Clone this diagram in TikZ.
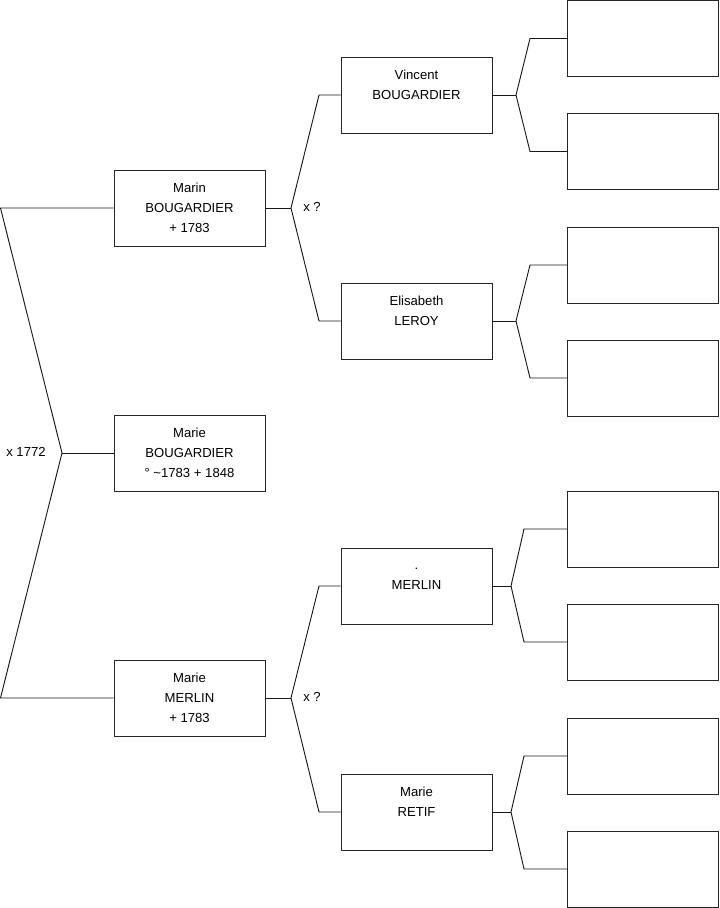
\documentclass[tikz,border=0pt]{standalone}
\usepackage{fontspec}
\setmainfont{Liberation Sans}
\begin{document}
\begin{tikzpicture}[
  x=0.03cm, y=-0.03cm,
  person/.style={draw=black!85, line width=0.8pt, minimum width=4.53cm,
                 minimum height=2.28cm, align=center, inner sep=0pt,
                 font=\fontsize{11.2}{17}\selectfont},
  link/.style={black!90, line width=0.8pt},
  union/.style={font=\fontsize{11.2}{13}\selectfont},
]
\useasboundingbox (0,0) rectangle (719,908);
% Generation 1
\node[person] (marieB) at (189.5,453) {Marie\\BOUGARDIER\\° \textasciitilde1783 + 1848};
% Generation 2
\node[person] (marin)  at (189.5,208) {Marin\\BOUGARDIER\\+ 1783};
\node[person] (marieM) at (189.5,698) {Marie\\MERLIN\\+ 1783};
% Generation 3
\node[person] (vincent)   at (416.5,95)  {Vincent\\BOUGARDIER\\\mbox{}};
\node[person] (elisabeth) at (416.5,321) {Elisabeth\\LEROY\\\mbox{}};
\node[person] (merlin)    at (416.5,586) {\rule{0pt}{6pt}.\\MERLIN\\\mbox{}};
\node[person] (retif)     at (416.5,812) {Marie\\RETIF\\\mbox{}};
% Generation 4 (unknown)
\node[person] (e1) at (643,38.5)  {};
\node[person] (e2) at (643,151.5) {};
\node[person] (e3) at (643,265)   {};
\node[person] (e4) at (643,378)   {};
\node[person] (e5) at (643,529)   {};
\node[person] (e6) at (643,642)   {};
\node[person] (e7) at (643,756)   {};
\node[person] (e8) at (643,869)   {};

% Forks
\coordinate (j0) at (62,453);
\coordinate (j1) at (291,208);
\coordinate (j2) at (291,698);
\coordinate (j3) at (516,95);
\coordinate (j4) at (516,321);
\coordinate (j5) at (511,586);
\coordinate (j6) at (511,812);

% Unions
\node[union] (u0) at (26,452) {x 1772};
\node[union] (u1) at (312,207) {x ?};
\node[union] (u2) at (312,697) {x ?};

% Links
\draw[link] (marin.west) -- (0.5,208) -- (j0) -- (0.5,698) -- (marieM.west);
\draw[link] (j0) -- (marieB.west);
\draw[link] (marin.east) -- (j1);
\draw[link] (vincent.west) -- (319,95) -- (j1) -- (319,321) -- (elisabeth.west);
\draw[link] (marieM.east) -- (j2);
\draw[link] (merlin.west) -- (319,586) -- (j2) -- (319,812) -- (retif.west);
\draw[link] (vincent.east) -- (j3);
\draw[link] (e1.west) -- (530,38.5) -- (j3) -- (530,151.5) -- (e2.west);
\draw[link] (elisabeth.east) -- (j4);
\draw[link] (e3.west) -- (530,265) -- (j4) -- (530,378) -- (e4.west);
\draw[link] (merlin.east) -- (j5);
\draw[link] (e5.west) -- (524,529) -- (j5) -- (524,642) -- (e6.west);
\draw[link] (retif.east) -- (j6);
\draw[link] (e7.west) -- (524,756) -- (j6) -- (524,869) -- (e8.west);
\end{tikzpicture}
\end{document}
